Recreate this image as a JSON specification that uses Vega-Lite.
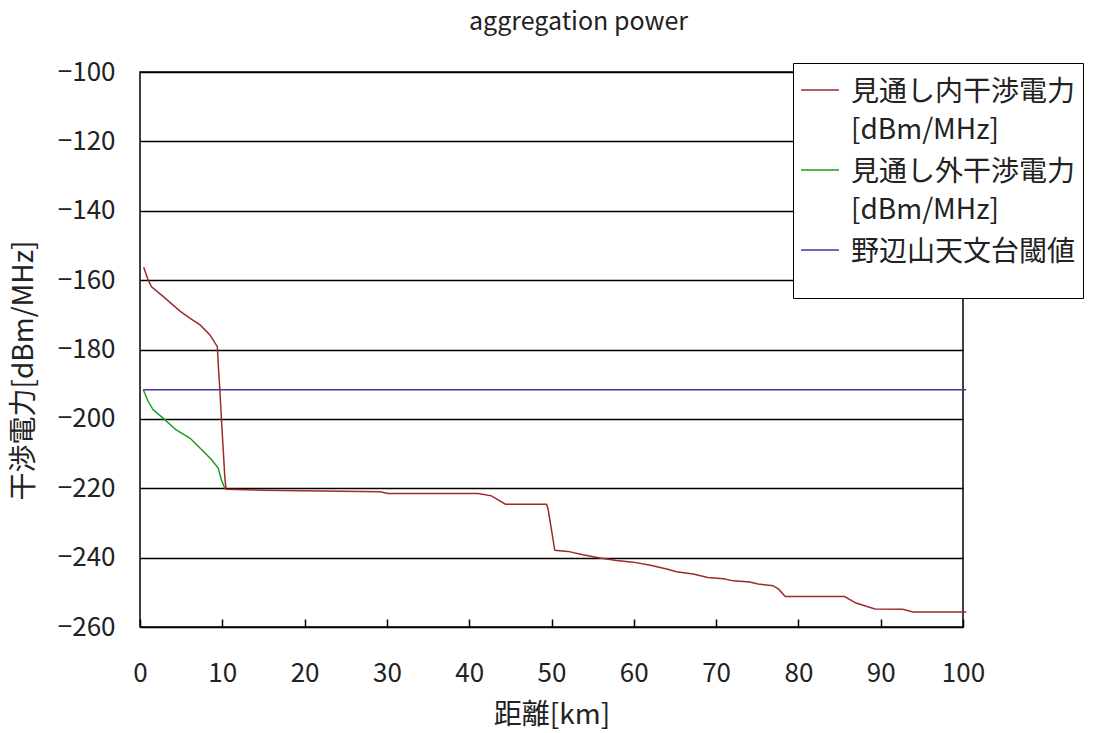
{
  "$schema": "https://vega.github.io/schema/vega-lite/v6.json",
  "autosize": "none",
  "width": 823,
  "height": 555,
  "padding": {"left": 140, "top": 72, "right": 142, "bottom": 106},
  "background": "white",
  "title": {"text": "aggregation power", "font": "Noto Sans CJK JP", "fontSize": 25, "fontWeight": "normal", "color": "#222", "offset": 24, "dx": 27, "anchor": "middle"},
  "config": {
    "view": {"stroke": "black", "strokeWidth": 1.5},
    "style": {"guide-label": {"lineHeight": 38}},
    "axis": {"labelFont": "Noto Sans CJK JP", "labelFontSize": 26, "labelColor": "#222", "titleFont": "Noto Sans CJK JP", "titleFontSize": 28, "titleFontWeight": "normal", "titleColor": "#222", "domain": false},
    "legend": {"labelFont": "Noto Sans CJK JP", "labelFontSize": 28, "labelColor": "#222", "labelLimit": 400}
  },
  "data": {"values": [
    {"s": "見通し内干渉電力[dBm/MHz]", "x": 0.45, "y": -156.3},
    {"s": "見通し内干渉電力[dBm/MHz]", "x": 1.0, "y": -160},
    {"s": "見通し内干渉電力[dBm/MHz]", "x": 1.4, "y": -161.9},
    {"s": "見通し内干渉電力[dBm/MHz]", "x": 2.8, "y": -164.7},
    {"s": "見通し内干渉電力[dBm/MHz]", "x": 4.9, "y": -169},
    {"s": "見通し内干渉電力[dBm/MHz]", "x": 6.1, "y": -171},
    {"s": "見通し内干渉電力[dBm/MHz]", "x": 7.3, "y": -172.9},
    {"s": "見通し内干渉電力[dBm/MHz]", "x": 8.5, "y": -175.8},
    {"s": "見通し内干渉電力[dBm/MHz]", "x": 9.4, "y": -179.2},
    {"s": "見通し内干渉電力[dBm/MHz]", "x": 9.5, "y": -184},
    {"s": "見通し内干渉電力[dBm/MHz]", "x": 9.7, "y": -191.6},
    {"s": "見通し内干渉電力[dBm/MHz]", "x": 9.9, "y": -200.3},
    {"s": "見通し内干渉電力[dBm/MHz]", "x": 10.1, "y": -208.4},
    {"s": "見通し内干渉電力[dBm/MHz]", "x": 10.3, "y": -216.6},
    {"s": "見通し内干渉電力[dBm/MHz]", "x": 10.45, "y": -220.3},
    {"s": "見通し内干渉電力[dBm/MHz]", "x": 15, "y": -220.6},
    {"s": "見通し内干渉電力[dBm/MHz]", "x": 29.2, "y": -221.0},
    {"s": "見通し内干渉電力[dBm/MHz]", "x": 30.1, "y": -221.5},
    {"s": "見通し内干渉電力[dBm/MHz]", "x": 41.1, "y": -221.5},
    {"s": "見通し内干渉電力[dBm/MHz]", "x": 42.7, "y": -222.2},
    {"s": "見通し内干渉電力[dBm/MHz]", "x": 44.4, "y": -224.6},
    {"s": "見通し内干渉電力[dBm/MHz]", "x": 49.4, "y": -224.6},
    {"s": "見通し内干渉電力[dBm/MHz]", "x": 49.6, "y": -226.2},
    {"s": "見通し内干渉電力[dBm/MHz]", "x": 50.0, "y": -232},
    {"s": "見通し内干渉電力[dBm/MHz]", "x": 50.4, "y": -237.9},
    {"s": "見通し内干渉電力[dBm/MHz]", "x": 52.0, "y": -238.2},
    {"s": "見通し内干渉電力[dBm/MHz]", "x": 53.8, "y": -239.2},
    {"s": "見通し内干渉電力[dBm/MHz]", "x": 55.9, "y": -240.1},
    {"s": "見通し内干渉電力[dBm/MHz]", "x": 57.9, "y": -240.8},
    {"s": "見通し内干渉電力[dBm/MHz]", "x": 59.9, "y": -241.3},
    {"s": "見通し内干渉電力[dBm/MHz]", "x": 62.0, "y": -242.2},
    {"s": "見通し内干渉電力[dBm/MHz]", "x": 64.0, "y": -243.3},
    {"s": "見通し内干渉電力[dBm/MHz]", "x": 65.2, "y": -244.1},
    {"s": "見通し内干渉電力[dBm/MHz]", "x": 67.2, "y": -244.7},
    {"s": "見通し内干渉電力[dBm/MHz]", "x": 69.0, "y": -245.7},
    {"s": "見通し内干渉電力[dBm/MHz]", "x": 70.9, "y": -246.1},
    {"s": "見通し内干渉電力[dBm/MHz]", "x": 72.1, "y": -246.7},
    {"s": "見通し内干渉電力[dBm/MHz]", "x": 74.1, "y": -247.0},
    {"s": "見通し内干渉電力[dBm/MHz]", "x": 75.1, "y": -247.6},
    {"s": "見通し内干渉電力[dBm/MHz]", "x": 76.9, "y": -248.1},
    {"s": "見通し内干渉電力[dBm/MHz]", "x": 77.6, "y": -249.1},
    {"s": "見通し内干渉電力[dBm/MHz]", "x": 78.4, "y": -251.2},
    {"s": "見通し内干渉電力[dBm/MHz]", "x": 85.6, "y": -251.2},
    {"s": "見通し内干渉電力[dBm/MHz]", "x": 87.0, "y": -253.1},
    {"s": "見通し内干渉電力[dBm/MHz]", "x": 89.3, "y": -254.8},
    {"s": "見通し内干渉電力[dBm/MHz]", "x": 92.7, "y": -254.9},
    {"s": "見通し内干渉電力[dBm/MHz]", "x": 93.9, "y": -255.7},
    {"s": "見通し内干渉電力[dBm/MHz]", "x": 100.4, "y": -255.7},
    {"s": "見通し外干渉電力[dBm/MHz]", "x": 0.4, "y": -191.6},
    {"s": "見通し外干渉電力[dBm/MHz]", "x": 1.0, "y": -195},
    {"s": "見通し外干渉電力[dBm/MHz]", "x": 1.6, "y": -197.4},
    {"s": "見通し外干渉電力[dBm/MHz]", "x": 2.8, "y": -199.8},
    {"s": "見通し外干渉電力[dBm/MHz]", "x": 4.4, "y": -203.2},
    {"s": "見通し外干渉電力[dBm/MHz]", "x": 6.1, "y": -205.6},
    {"s": "見通し外干渉電力[dBm/MHz]", "x": 7.5, "y": -208.9},
    {"s": "見通し外干渉電力[dBm/MHz]", "x": 8.7, "y": -211.8},
    {"s": "見通し外干渉電力[dBm/MHz]", "x": 9.5, "y": -214.2},
    {"s": "見通し外干渉電力[dBm/MHz]", "x": 9.9, "y": -217.6},
    {"s": "見通し外干渉電力[dBm/MHz]", "x": 10.3, "y": -220},
    {"s": "野辺山天文台閾値", "x": 0.4, "y": -191.6},
    {"s": "野辺山天文台閾値", "x": 100.4, "y": -191.6}
  ]},
  "mark": {"type": "line", "strokeWidth": 1.5, "clip": false},
  "encoding": {
    "x": {"field": "x", "type": "quantitative", "scale": {"domain": [0, 100], "nice": false},
      "axis": {"values": [0,10,20,30,40,50,60,70,80,90,100], "grid": false, "ticks": true, "tickSize": -8, "tickColor": "black", "tickWidth": 1.5, "labelPadding": 41, "labelFlush": false, "labelOverlap": false, "title": "距離[km]", "titleY": 88, "titleBaseline": "middle"}},
    "y": {"field": "y", "type": "quantitative", "scale": {"domain": [-260, -100], "nice": false},
      "axis": {"values": [-100,-120,-140,-160,-180,-200,-220,-240,-260], "grid": true, "gridColor": "black", "gridWidth": 1.5, "gridOpacity": 1, "ticks": false, "labelPadding": 25, "labelOverlap": false, "title": "干渉電力[dBm/MHz]", "titleX": -116, "titleY": 298, "titleAngle": -90, "titleAlign": "center", "titleBaseline": "middle"}},
    "color": {"field": "s", "type": "nominal", "sort": null,
      "scale": {"domain": ["見通し内干渉電力[dBm/MHz]", "見通し外干渉電力[dBm/MHz]", "野辺山天文台閾値"], "range": ["#9e2a2b", "#1e9b1e", "#3b3ba3"]},
      "legend": {"title": " ", "titleOrient": "bottom", "titleFontSize": 16, "titlePadding": 8, "orient": "none", "legendX": 653, "legendY": -9, "fillColor": "white", "strokeColor": "black", "padding": 7,
        "symbolType": "stroke", "symbolSize": 1444, "symbolStrokeWidth": 1.5, "labelBaseline": "top", "labelOffset": 11, "rowPadding": 5,
        "encoding": {"labels": {"dy": {"value": -11}}},
        "labelExpr": "indexof(datum.label,'[')>0 ? [substring(datum.label,0,indexof(datum.label,'[')), substring(datum.label,indexof(datum.label,'['))] : datum.label"}}
  }
}
